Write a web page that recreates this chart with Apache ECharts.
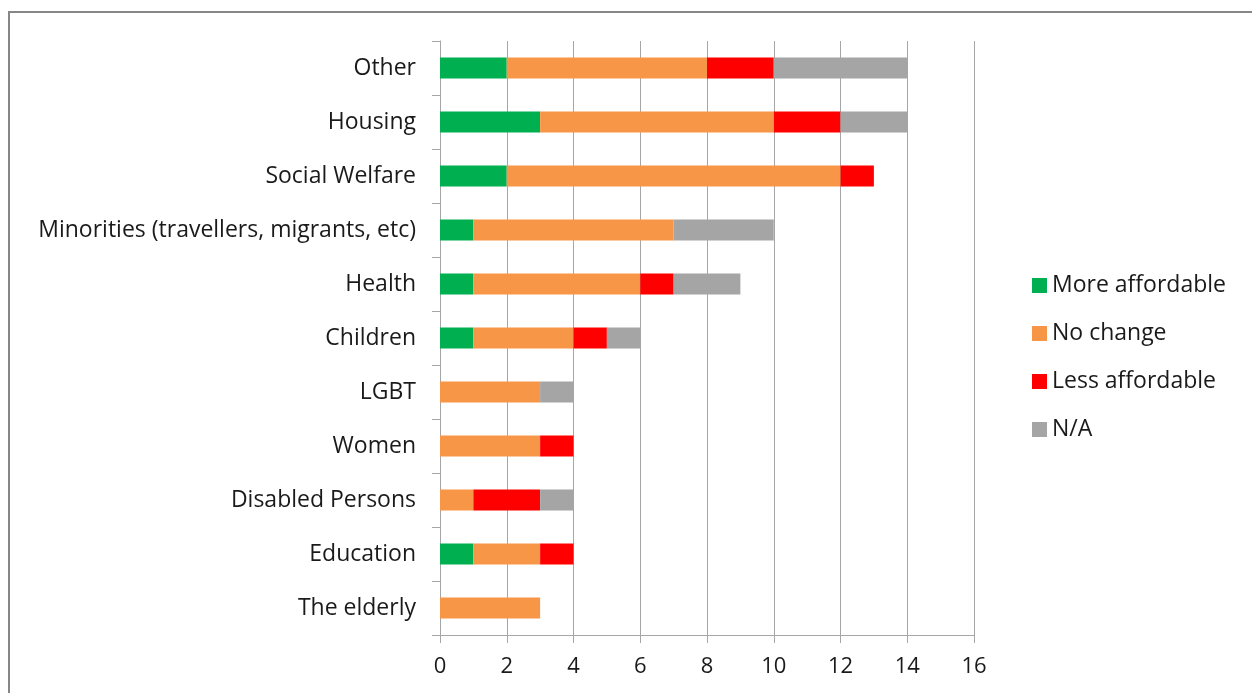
<!DOCTYPE html>
<html>
<head>
<meta charset="utf-8">
<style>
  html, body { margin: 0; padding: 0; background: #fff; }
  #chart { width: 1252px; height: 693px; }
</style>
<script src="https://cdn.jsdelivr.net/npm/echarts@6/dist/echarts.min.js"></script>
</head>
<body>
<div id="chart"></div>
<script>
// Issue areas, listed top to bottom
const categories = [
  'Other', 'Housing', 'Social Welfare', 'Minorities (travellers, migrants, etc)',
  'Health', 'Children', 'LGBT', 'Women', 'Disabled Persons', 'Education', 'The elderly'
];
const moreAffordable = [2, 3, 2, 1, 1, 1, 0, 0, 0, 1, 0];
const noChange       = [6, 7, 10, 6, 5, 3, 3, 3, 1, 2, 3];
const lessAffordable = [2, 2, 1, 0, 1, 1, 0, 1, 2, 1, 0];
const notApplicable  = [4, 2, 0, 3, 2, 1, 1, 0, 1, 0, 0];

const FONT = '"Open Sans", sans-serif';
const gridColor = '#a6a6a6';
const textColor = '#1a1a1a';

function bar(name, data, color) {
  return {
    name, type: 'bar', stack: 'total', data,
    barWidth: 21,
    itemStyle: { color },
    emphasis: { disabled: true }
  };
}

const chart = echarts.init(document.getElementById('chart'), null, { renderer: 'canvas' });
chart.setOption({
  animation: false,
  textStyle: { fontFamily: FONT },
  grid: { left: 440, right: 278, top: 41, bottom: 58, containLabel: false },
  graphic: [{
    type: 'rect', silent: true,
    shape: { x: 9, y: 12, width: 1400, height: 900 },
    style: { fill: 'none', stroke: '#878787', lineWidth: 2 }
  }],
  legend: {
    orient: 'vertical', left: 1027, top: 269,
    icon: 'rect', itemWidth: 15, itemHeight: 15, itemGap: 25,
    textStyle: { fontSize: 23, color: textColor, fontFamily: FONT, padding: [0, 0, 0, 0] },
    data: ['More affordable', 'No change', 'Less affordable', 'N/A']
  },
  xAxis: {
    type: 'value', min: 0, max: 16, interval: 2,
    axisLine: { show: true, lineStyle: { color: gridColor } },
    axisTick: { show: true, length: 8, lineStyle: { color: gridColor } },
    splitLine: { show: true, lineStyle: { color: gridColor, width: 1 } },
    axisLabel: { fontSize: 22, color: textColor, margin: 21, fontFamily: FONT }
  },
  yAxis: {
    type: 'category', data: categories, inverse: true,
    axisLine: { show: true, lineStyle: { color: gridColor } },
    axisTick: { show: true, length: 8, lineStyle: { color: gridColor } },
    axisLabel: { fontSize: 23, color: textColor, margin: 24, fontFamily: FONT }
  },
  series: [
    bar('More affordable', moreAffordable, '#00b050'),
    bar('No change', noChange, '#f79646'),
    bar('Less affordable', lessAffordable, '#ff0000'),
    bar('N/A', notApplicable, '#a5a5a5')
  ]
});
</script>
</body>
</html>
